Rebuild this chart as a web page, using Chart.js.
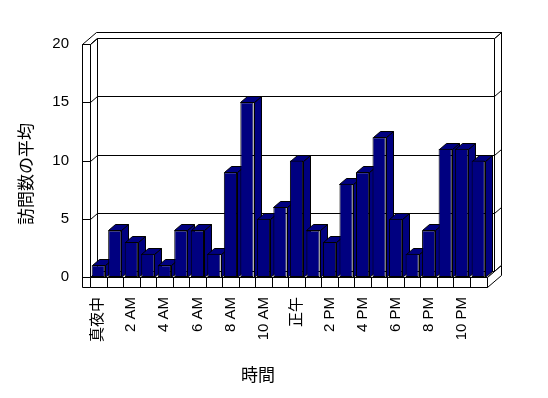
<!DOCTYPE html>
<html>
<head>
<meta charset="utf-8">
<script src="https://cdn.jsdelivr.net/npm/chart.js@4/dist/chart.umd.min.js"></script>
<style>
body { margin: 0; background: #fff; }
</style>
</head>
<body>
<canvas id="visitchart" width="548" height="398"></canvas>
<script>
const hours = ["真夜中", "1 AM", "2 AM", "3 AM", "4 AM", "5 AM", "6 AM", "7 AM", "8 AM", "9 AM", "10 AM", "11 AM",
    "正午", "1 PM", "2 PM", "3 PM", "4 PM", "5 PM", "6 PM", "7 PM", "8 PM", "9 PM", "10 PM", "11 PM"];
const avgVisits = [1, 4, 3, 2, 1, 4, 4, 2, 9, 15, 5, 6, 10, 4, 3, 8, 9, 12, 5, 2, 4, 11, 11, 10];
const yTicks = [0, 5, 10, 15, 20];
const xTitle = "時間";
const yTitle = "訪問数の平均";

const DX = 7, DY = -6;     // depth offset of the fake 3D
const WALL = 8, FLOOR = 10;
const FONT = '"Liberation Sans", "Noto Sans CJK JP", sans-serif';

function poly(ctx, pts) {
    ctx.beginPath();
    ctx.moveTo(pts[0][0], pts[0][1]);
    for (let i = 1; i < pts.length; i++) ctx.lineTo(pts[i][0], pts[i][1]);
    ctx.closePath();
    ctx.fill();
    ctx.stroke();
}

function line(ctx, x1, y1, x2, y2) {
    ctx.beginPath();
    ctx.moveTo(x1, y1);
    ctx.lineTo(x2, y2);
    ctx.stroke();
}

const box3d = {
    id: "box3d",
    beforeDatasetsDraw(chart) {
        const ctx = chart.ctx;
        const a = chart.chartArea;
        const L = Math.round(a.left) + 0.5, R = Math.round(a.right) + 0.5;
        const T = Math.round(a.top) + 0.5, B = Math.round(a.bottom) + 0.5;
        const ys = chart.scales.y, xs = chart.scales.x;
        const py = v => Math.round(ys.getPixelForValue(v)) + 0.5;

        ctx.save();
        ctx.lineWidth = 1;
        ctx.strokeStyle = "#000";
        ctx.fillStyle = "#fff";

        // back wall
        poly(ctx, [[L + DX, T + DY], [R + DX, T + DY], [R + DX, B + DY], [L + DX, B + DY]]);
        yTicks.forEach(v => line(ctx, L + DX, py(v) + DY, R + DX, py(v) + DY));
        // back wall right edge
        poly(ctx, [[R + DX, T + DY], [R + 2 * DX, T + 2 * DY], [R + 2 * DX, B + 2 * DY], [R + DX, B + DY]]);
        yTicks.forEach(v => line(ctx, R + DX, py(v) + DY, R + 2 * DX, py(v) + 2 * DY));
        // top of walls
        poly(ctx, [[L - WALL, T], [L - WALL + 2 * DX, T + 2 * DY], [R + 2 * DX, T + 2 * DY], [R + DX, T + DY], [L + DX, T + DY], [L, T]]);
        // left wall inside
        poly(ctx, [[L, T], [L + DX, T + DY], [L + DX, B + DY], [L, B]]);
        yTicks.forEach(v => line(ctx, L, py(v), L + DX, py(v) + DY));
        // left wall front
        poly(ctx, [[L - WALL, T], [L, T], [L, B + FLOOR], [L - WALL, B + FLOOR]]);
        yTicks.forEach(v => line(ctx, L - WALL, py(v), L, py(v)));
        // floor
        poly(ctx, [[L, B], [R, B], [R + DX, B + DY], [L + DX, B + DY]]);
        poly(ctx, [[L, B], [R, B], [R, B + FLOOR], [L, B + FLOOR]]);
        const step = xs.getPixelForValue(1) - xs.getPixelForValue(0);
        for (let i = 1; i < hours.length; i++) {
            const bx = Math.round(xs.getPixelForValue(i) - step / 2) + 0.5;
            line(ctx, bx, B, bx, B + FLOOR);
        }
        poly(ctx, [[R, B], [R + 2 * DX, B + 2 * DY], [R + 2 * DX, B + 2 * DY + FLOOR], [R, B + FLOOR]]);

        // bar tops and sides
        ctx.fillStyle = "#000080";
        chart.getDatasetMeta(0).data.forEach(bar => {
            const p = bar.getProps(["x", "y", "base", "width"], true);
            const xl = Math.round(p.x - p.width / 2) + 0.5;
            const xr = Math.round(p.x + p.width / 2) + 0.5;
            const yt = Math.round(p.y) + 0.5, yb = Math.round(p.base) + 0.5;
            poly(ctx, [[xr, yt], [xr + DX, yt + DY], [xr + DX, yb + DY], [xr, yb]]);
            poly(ctx, [[xl, yt], [xr, yt], [xr + DX, yt + DY], [xl + DX, yt + DY]]);
        });
        ctx.restore();
    },
    afterDraw(chart) {
        // axis titles, placed like the original (not centred on the plot)
        const ctx = chart.ctx;
        ctx.save();
        ctx.fillStyle = "#000";
        ctx.font = "17px " + FONT;
        ctx.textAlign = "center";
        ctx.textBaseline = "middle";
        ctx.fillText(xTitle, 258, 376);
        ctx.translate(27.5, 174);
        ctx.rotate(-Math.PI / 2);
        ctx.fillText(yTitle, 0, 0);
        ctx.restore();
    }
};

Chart.defaults.font.family = FONT;
Chart.defaults.color = "#000";

const el = document.getElementById("visitchart");

new Chart(el, {
    type: "bar",
    data: {
        labels: hours,
        datasets: [{
            label: yTitle,
            data: avgVisits,
            backgroundColor: "#000080",
            borderColor: "#000",
            borderWidth: 1,
            borderSkipped: false,
            categoryPercentage: 1,
            barPercentage: 0.8
        }]
    },
    options: {
        responsive: false,
        animation: false,
        layout: {
            padding: { left: 0, top: 44, right: 61.5, bottom: 0 }
        },
        plugins: {
            legend: { display: false },
            tooltip: { enabled: false }
        },
        scales: {
            x: {
                grid: { display: false, drawTicks: false },
                border: { display: false },
                ticks: {
                    autoSkip: false,
                    minRotation: 90,
                    maxRotation: 90,
                    padding: 20,
                    font: { size: 15 },
                    callback: (v, i) => i % 2 === 0 ? hours[i] : ""
                },
                afterFit: s => { s.height = 121; }
            },
            y: {
                min: 0,
                max: 20,
                grid: { display: false, drawTicks: false },
                border: { display: false },
                afterBuildTicks: s => { s.ticks = yTicks.map(v => ({ value: v })); },
                ticks: {
                    padding: 21,
                    font: { size: 15 }
                },
                afterFit: s => { s.width = 90; }
            }
        }
    },
    plugins: [box3d]
});
</script>
</body>
</html>
